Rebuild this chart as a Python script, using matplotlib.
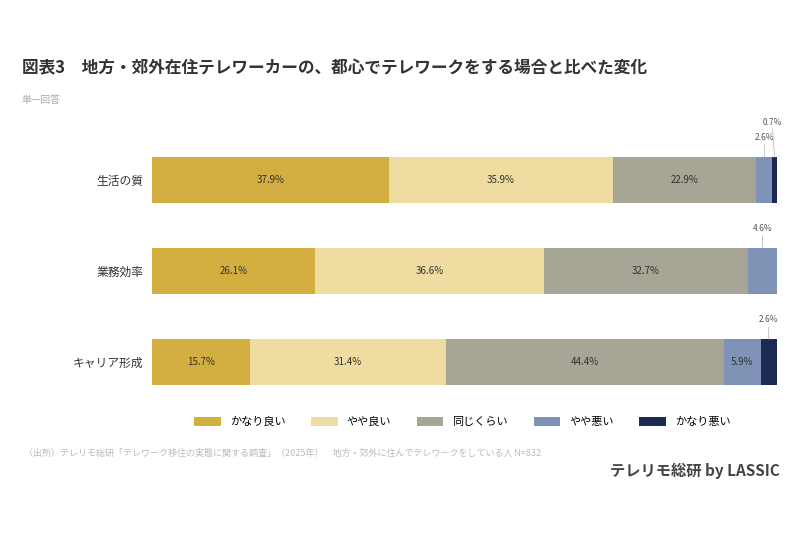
import matplotlib
matplotlib.use("Agg")
import matplotlib.pyplot as plt
from matplotlib.patches import Patch

plt.rcParams['font.family'] = ['Noto Sans CJK JP', 'DejaVu Sans']

categories = ["生活の質", "業務効率", "キャリア形成"]
series_names = ["かなり良い", "やや良い", "同じくらい", "やや悪い", "かなり悪い"]
values = {
    "かなり良い": [37.9, 26.1, 15.7],
    "やや良い": [35.9, 36.6, 31.4],
    "同じくらい": [22.9, 32.7, 44.4],
    "やや悪い": [2.6, 4.6, 5.9],
    "かなり悪い": [0.7, 0.0, 2.6],
}
colors = ["#D3AE41", "#EFDCA0", "#A6A596", "#7F93B6", "#1B2A50"]

title = "図表3　地方・郊外在住テレワーカーの、都心でテレワークをする場合と比べた変化"
subtitle = "単一回答"
source = "（出所）テレリモ総研「テレワーク移住の実態に関する調査」（2025年）　地方・郊外に住んでテレワークをしている人 N=832"
brand = "テレリモ総研 by LASSIC"

fig = plt.figure(figsize=(8, 5.33), dpi=100)
ax = fig.add_axes([0.19, 0.2355, 0.781, 0.5122])

ypos = list(range(len(categories)))
left = [0.0] * len(categories)
bar_h = 0.5
for si, name in enumerate(series_names):
    vals = values[name]
    ax.barh(ypos, vals, left=left, height=bar_h, color=colors[si], edgecolor='none')
    for i, v in enumerate(vals):
        if v <= 0:
            continue
        cx = left[i] + v / 2
        if v >= 5:
            ax.text(cx, ypos[i], f"{v:.1f}%", ha='center', va='center',
                    fontsize=7, color='#333333')
    left = [l + v for l, v in zip(left, vals)]

# small-value annotations above bars (stacked upward when several in one bar)
left = [0.0] * len(categories)
level = [0] * len(categories)
for si, name in enumerate(series_names):
    vals = values[name]
    for i, v in enumerate(vals):
        if 0 < v < 5:
            cx = left[i] + v / 2
            off = 11 + 11 * level[i]
            dx = -2 if level[i] > 0 else 0
            level[i] += 1
            ax.annotate(f"{v:.1f}%", xy=(cx, ypos[i] - bar_h / 2),
                        xytext=(dx, off), textcoords='offset points',
                        ha='center', va='bottom', fontsize=6, color='#555555',
                        arrowprops=dict(arrowstyle='-', color='#BBBBBB', lw=0.6,
                                        shrinkA=0, shrinkB=0))
    left = [l + v for l, v in zip(left, vals)]

ax.set_xlim(0, 100)
ax.set_ylim(len(categories) - 0.5, -0.5)
ax.set_yticks(ypos)
ax.set_yticklabels(categories, fontsize=8.5, color='#333333')
ax.tick_params(axis='y', length=0, pad=6)
ax.set_xticks([])
for s in ax.spines.values():
    s.set_visible(False)

fig.text(0.027, 0.872, title, fontsize=12, fontweight='bold', color='#333333',
         ha='left', va='center')
fig.text(0.027, 0.812, subtitle, fontsize=7, color='#AAAAAA', ha='left', va='center')

handles = [Patch(facecolor=c, edgecolor='none') for c in colors]
fig.legend(handles, series_names, loc='center', bbox_to_anchor=(0.578, 0.208),
           ncol=5, frameon=False, fontsize=8, handlelength=2.4, handleheight=0.8,
           columnspacing=2.3, handletextpad=0.8)

fig.text(0.03, 0.149, source, fontsize=6.5, color='#BBBBBB', ha='left', va='center')
fig.text(0.975, 0.117, brand, fontsize=11, fontweight='bold', color='#444444',
         ha='right', va='center')

fig.savefig("out.png", dpi=100, facecolor='white')
